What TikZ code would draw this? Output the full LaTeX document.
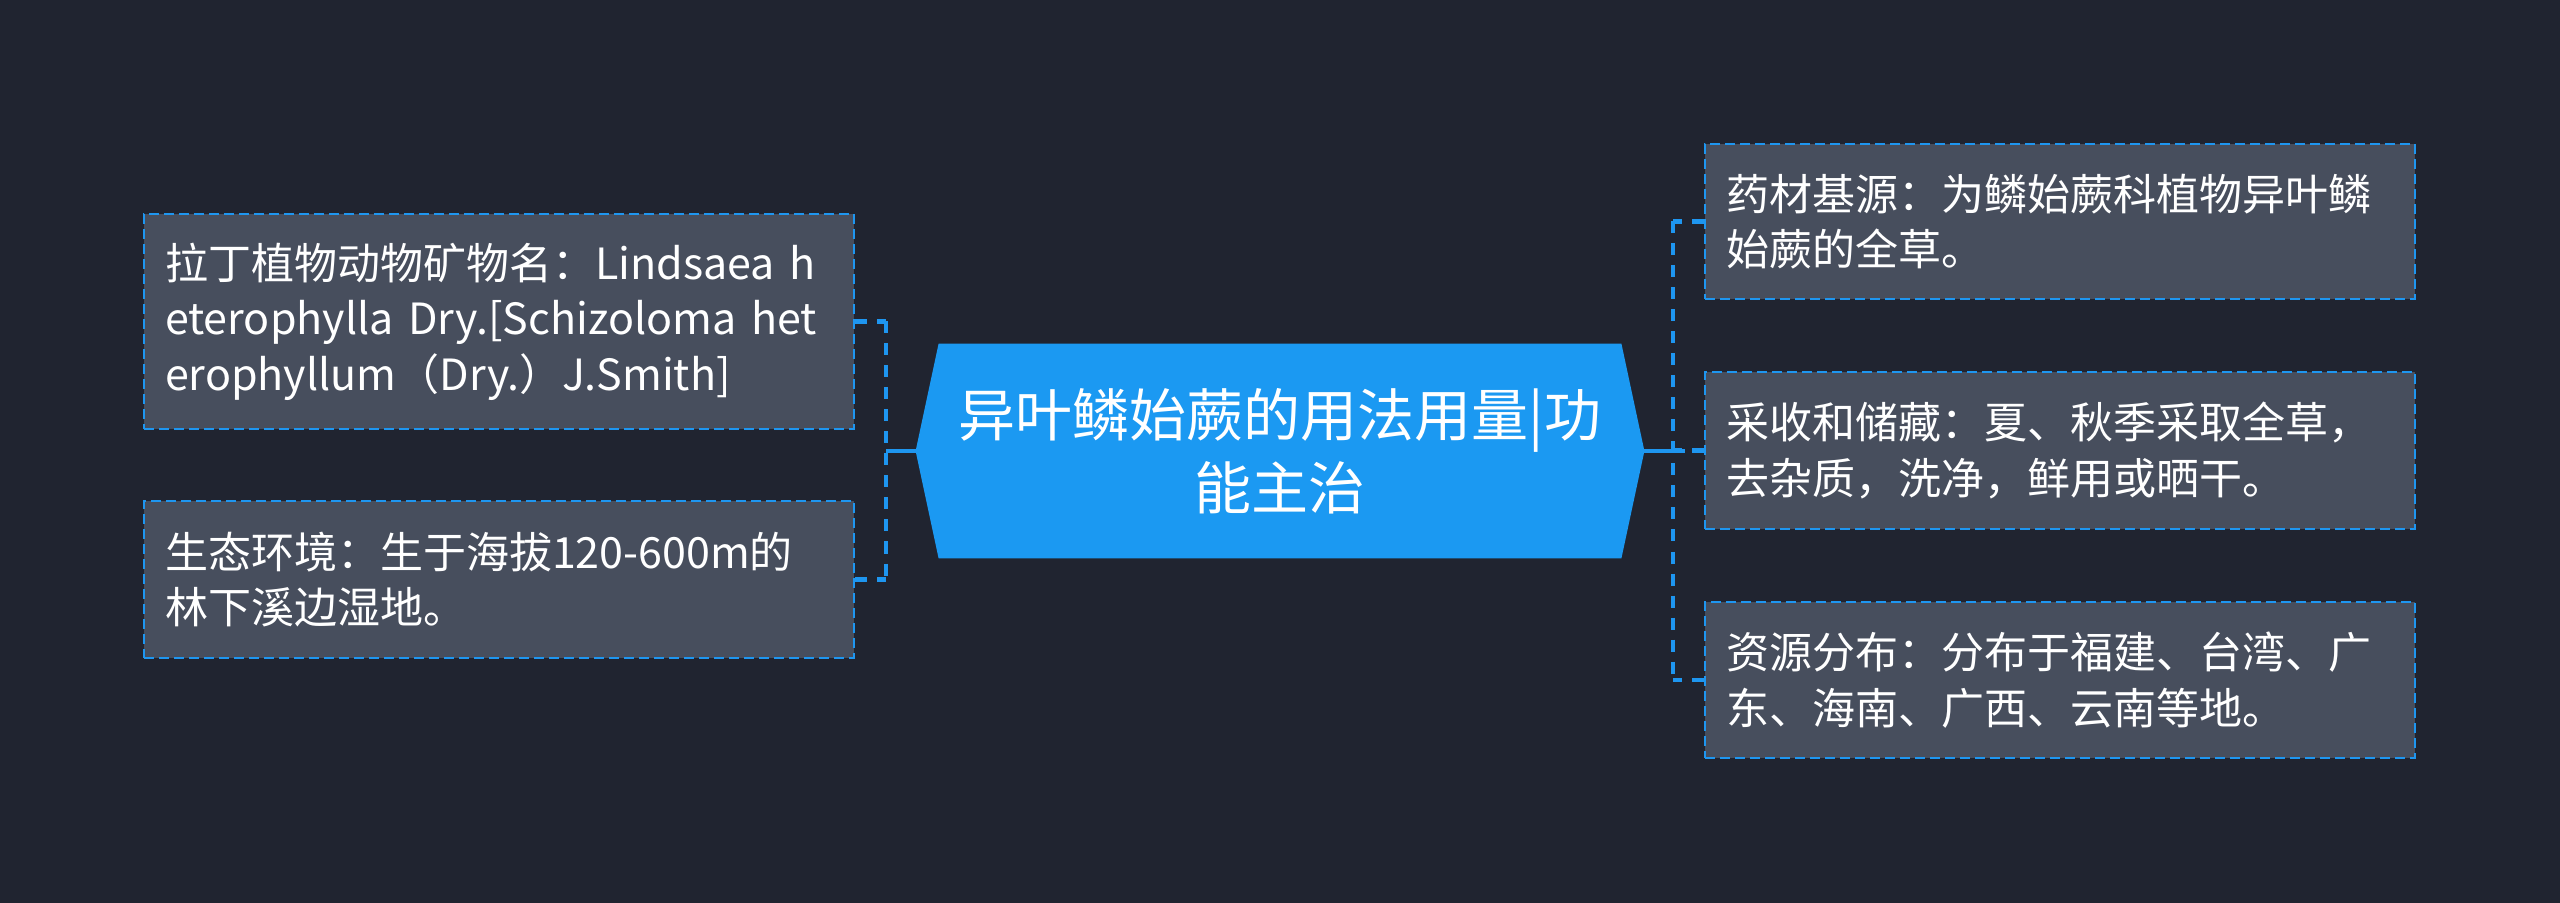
\documentclass[tikz,border=0pt]{standalone}
\usepackage{fontspec}
\setmainfont{Noto Sans CJK SC}
\usetikzlibrary{calc,backgrounds}
\definecolor{bgdark}{RGB}{32,36,48}
\definecolor{boxgray}{RGB}{71,78,93}
\definecolor{lineblue}{RGB}{30,150,240}
\definecolor{mainblue}{RGB}{27,153,242}

\begin{document}
\begin{tikzpicture}[x=0.5pt,y=-0.5pt,
  leafbox/.style={draw=lineblue,fill=boxgray,dash pattern=on 5pt off 2.5pt,line width=1.3pt,
    text=white,font=\fontsize{21.5}{27.75}\selectfont,inner xsep=10.5pt,inner ysep=0pt,
    text width=334pt,align=left},
  mainnode/.style={text=white,font=\fontsize{28.5}{36.5}\selectfont,align=center,
    minimum width=364pt,minimum height=107pt,inner sep=0pt},
  link/.style={draw=lineblue,line width=2.4pt},
  dashlink/.style={link,dash pattern=on 6pt off 5pt}]
  \useasboundingbox (0,0) rectangle (2560,903);

  \node[mainnode] (main) at (1280,451) {异叶鳞始蕨的用法用量|功\\能主治};

  \node[leafbox,minimum height=107.5pt] (l1) at (499,321.5) {拉丁植物动物矿物名：Lindsaea h\\eterophylla Dry.[Schizoloma het\\erophyllum（Dry.）J.Smith]};
  \node[leafbox,minimum height=78.5pt] (l2) at (499,579.5) {生态环境：生于海拔120-600m的\\林下溪边湿地。};

  \node[leafbox,minimum height=77.5pt] (r1) at (2060,221.5) {药材基源：为鳞始蕨科植物异叶鳞\\始蕨的全草。};
  \node[leafbox,minimum height=78.5pt] (r2) at (2060,450.5) {采收和储藏：夏、秋季采取全草，\\去杂质，洗净，鲜用或晒干。};
  \node[leafbox,minimum height=78pt] (r3) at (2060,680) {资源分布：分布于福建、台湾、广\\东、海南、广西、云南等地。};

  \begin{scope}[on background layer]
    \fill[bgdark] (0,0) rectangle (2560,903);
    \fill[mainblue] ($(main.north west)+(23,0)$) -- ($(main.north east)+(-23,0)$) -- (main.east)
      -- ($(main.south east)+(-23,0)$) -- ($(main.south west)+(23,0)$) -- (main.west) -- cycle;
  \end{scope}

  \coordinate (lj) at (886,451);
  \coordinate (rj) at (1673,451);

  \draw[link] (main.west) -- (lj);
  \draw[dashlink] (lj |- l1.east) -- (lj |- l2.east);
  \draw[dashlink] (l1.east) -- (lj |- l1.east);
  \draw[dashlink] (l2.east) -- (lj |- l2.east);

  \draw[link] (main.east) -- ($(rj)+(12,0)$);
  \draw[dashlink] (rj |- r1.west) -- (rj |- r3.west);
  \draw[dashlink] (r1.west) -- (rj |- r1.west);
  \draw[dashlink] (r2.west) -- (rj |- r2.west);
  \draw[dashlink] (r3.west) -- (rj |- r3.west);
\end{tikzpicture}
\end{document}
